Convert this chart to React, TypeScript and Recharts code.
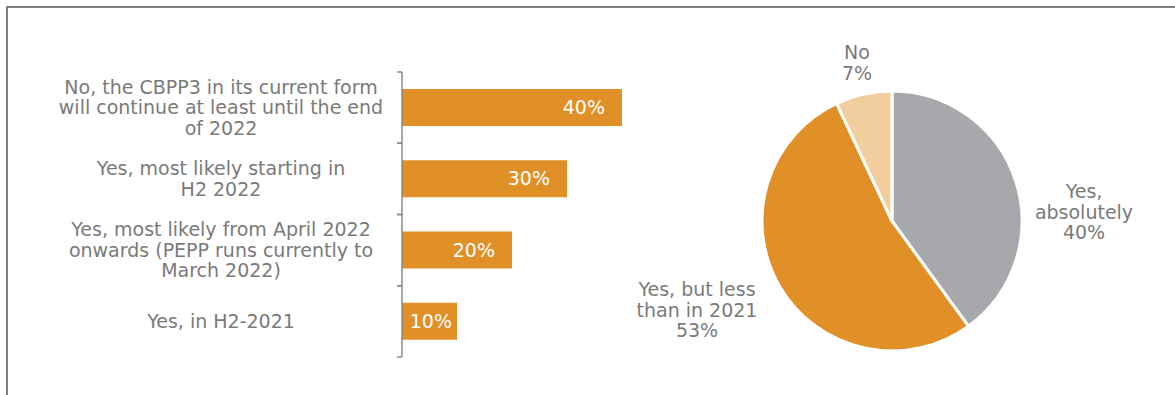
import React from "react";
import { BarChart, Bar, XAxis, YAxis, LabelList, PieChart, Pie, Cell } from "recharts";

// ---- Data ----
const barCategories: string[][] = [
  ["No, the CBPP3 in its current form", "will continue at least until the end", "of 2022"],
  ["Yes, most likely starting in", "H2 2022"],
  ["Yes, most likely from April 2022", "onwards (PEPP runs currently to", "March 2022)"],
  ["Yes, in H2-2021"],
];
const barValues: number[] = [40, 30, 20, 10];

const pieLabels: string[][] = [
  ["Yes,", "absolutely"],
  ["Yes, but less", "than in 2021"],
  ["No"],
];
const pieValues: number[] = [40, 53, 7];

// ---- Styles ----
const FONT = "'DejaVu Sans', Verdana, sans-serif";
const FONT_SIZE = 19;
const LINE_H = 20.6;
const TEXT_COLOR = "#7a7a7a";
const AXIS_COLOR = "#8a8a8a";
const ORANGE = "#E09027";
const PIE_COLORS = ["#A7A8AB", "#E09027", "#F2CE9F"];
// label block centre offsets relative to pie centre (layout only)
const PIE_LABEL_OFFSETS = [
  { dx: 192, dy: -9 },
  { dx: -195, dy: 89 },
  { dx: -35, dy: -158 },
];

const barData = barCategories.map((lines, i) => ({ name: lines.join(" "), lines, value: barValues[i] }));
const pieData = pieLabels.map((lines, i) => ({ name: lines.join(" "), lines, value: pieValues[i] }));

const CategoryTick = (props: any) => {
  const { x, y, payload, index } = props;
  const lines = barCategories[index] ?? [String(payload.value)];
  const half = payload.offset ?? 35.6;
  const n = lines.length;
  const cx = x - 179;
  return (
    <g>
      <line x1={x - 3} x2={x + 2} y1={y - half} y2={y - half} stroke={AXIS_COLOR} strokeWidth={1.5} />
      <line x1={x - 3} x2={x + 2} y1={y + half} y2={y + half} stroke={AXIS_COLOR} strokeWidth={1.5} />
      <text x={cx} y={y} textAnchor="middle" fill={TEXT_COLOR} fontFamily={FONT} fontSize={FONT_SIZE}>
        {lines.map((l, i) => (
          <tspan key={i} x={cx} y={y + (i - (n - 1) / 2) * LINE_H} dy="0.35em">
            {l}
          </tspan>
        ))}
      </text>
    </g>
  );
};

const BarValueLabel = (props: any) => {
  const { x, y, width, height, value } = props;
  const pad = Math.min(17, Math.max(5, (width - 46) / 2));
  return (
    <text
      x={x + width - pad}
      y={y + height / 2}
      dy="0.35em"
      textAnchor="end"
      fill="#ffffff"
      fontFamily={FONT}
      fontSize={FONT_SIZE}
    >
      {`${value}%`}
    </text>
  );
};

const PieLabel = (props: any) => {
  const { cx, cy, index, value } = props;
  const off = PIE_LABEL_OFFSETS[index];
  const lines = [...pieLabels[index], `${value}%`];
  const n = lines.length;
  const lx = cx + off.dx;
  const ly = cy + off.dy;
  return (
    <text x={lx} y={ly} textAnchor="middle" fill={TEXT_COLOR} fontFamily={FONT} fontSize={FONT_SIZE}>
      {lines.map((l, i) => (
        <tspan key={i} x={lx} y={ly + (i - (n - 1) / 2) * LINE_H} dy="0.35em">
          {l}
        </tspan>
      ))}
    </text>
  );
};

export default function App() {
  return (
    <div style={{ position: "absolute", left: 0, top: 0, width: 1175, height: 395, background: "#fff", overflow: "hidden" }}>
      <div style={{ position: "absolute", left: 6, top: 6, width: 1169, height: 2, background: "#7f7f7f" }} />
      <div style={{ position: "absolute", left: 6, top: 6, width: 2, height: 389, background: "#7f7f7f" }} />
      <div style={{ position: "absolute", left: 0, top: 0 }}>
        <BarChart
          width={700}
          height={395}
          data={barData}
          layout="vertical"
          margin={{ top: 72, right: 78, bottom: 38, left: 0 }}
          barSize={37}
        >
          <XAxis type="number" domain={[0, 40]} hide />
          <YAxis
            type="category"
            dataKey="name"
            width={402}
            axisLine={{ stroke: AXIS_COLOR, strokeWidth: 1.5 }}
            tickLine={false}
            tickSize={0}
            tick={<CategoryTick />}
            interval={0}
          />
          <Bar dataKey="value" fill={ORANGE} isAnimationActive={false}>
            <LabelList dataKey="value" content={<BarValueLabel />} />
          </Bar>
        </BarChart>
      </div>
      <div style={{ position: "absolute", left: 600, top: 0 }}>
        <PieChart width={575} height={395} margin={{ top: 0, right: 0, bottom: 0, left: 0 }}>
          <Pie
            data={pieData}
            dataKey="value"
            cx={292}
            cy={221}
            outerRadius={130}
            startAngle={90}
            endAngle={-270}
            stroke="#ffffff"
            strokeWidth={3}
            label={<PieLabel />}
            labelLine={false}
            isAnimationActive={false}
          >
            {pieData.map((d, i) => (
              <Cell key={d.name} fill={PIE_COLORS[i]} />
            ))}
          </Pie>
        </PieChart>
      </div>
    </div>
  );
}
